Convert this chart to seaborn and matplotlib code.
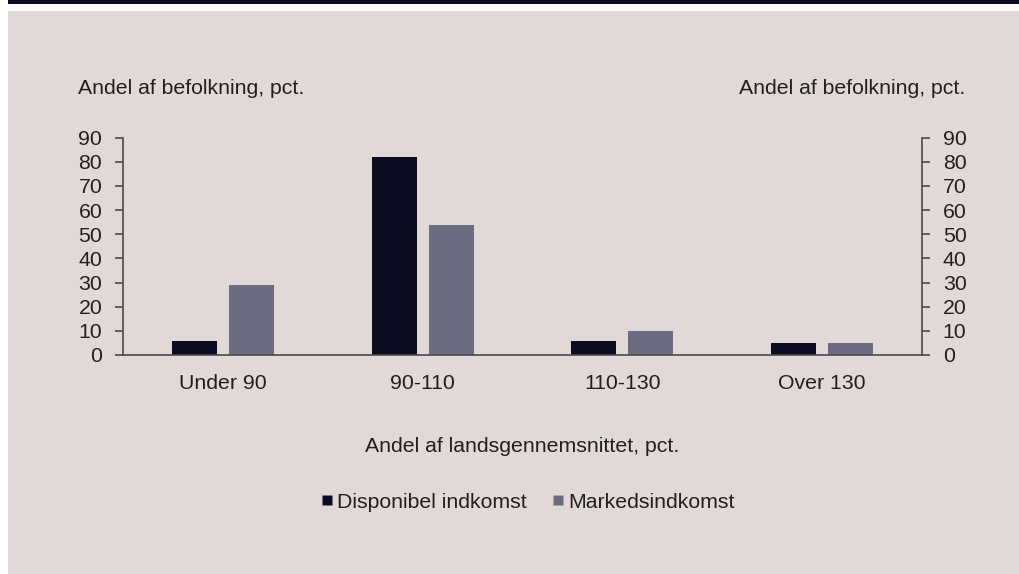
import matplotlib
matplotlib.use("Agg")
import matplotlib.pyplot as plt
from matplotlib.patches import Rectangle
from matplotlib.lines import Line2D
import seaborn as sns
import pandas as pd

categories = ["Under 90", "90-110", "110-130", "Over 130"]
disponibel = [6, 82, 6, 5]
marked = [29, 54, 10, 5]
series_names = ["Disponibel indkomst", "Markedsindkomst"]
yticks = [0, 10, 20, 30, 40, 50, 60, 70, 80, 90]

bg = "#e0d9d8"
c_dark = "#0b0c1f"
c_gray = "#6c6c80"
txt = "#231f20"
spine_c = "#4a4a4a"
fs = 15.3

sns.set_theme(style="white")
plt.rcParams['font.family'] = ['Liberation Sans', 'DejaVu Sans']

df = pd.DataFrame({
    "cat": categories * 2,
    "val": disponibel + marked,
    "serie": [series_names[0]] * 4 + [series_names[1]] * 4,
})

W, H = 1019, 574
fig = plt.figure(figsize=(W / 100, H / 100), dpi=100)
fig.patch.set_facecolor("white")
fig.add_artist(Rectangle((8 / W, 1 - 4 / H), 1, 4 / H, transform=fig.transFigure,
                         facecolor=c_dark, edgecolor="none", zorder=0))
fig.add_artist(Rectangle((8 / W, -0.01), 1, 1.01 - 11 / H, transform=fig.transFigure,
                         facecolor=bg, edgecolor="none", zorder=0))

left, right = 123 / W, 922 / W
bottom, top = 1 - 355 / H, 1 - 137.7 / H
ax = fig.add_axes([left, bottom, right - left, top - bottom])
ax.set_facecolor("none")

sns.barplot(data=df, x="cat", y="val", hue="serie", palette=[c_dark, c_gray],
            width=0.57, gap=0.21, ax=ax, legend=False, saturation=1, linewidth=0)
ax.set_xlim(-0.5, 3.5)
ax.set_ylim(0, 90)
ax.set_yticks(yticks)
ax.set_xlabel("")
ax.set_ylabel("")
for s in ["top", "right"]:
    ax.spines[s].set_visible(False)
for s in ["left", "bottom"]:
    ax.spines[s].set_color(spine_c)
    ax.spines[s].set_linewidth(1.2)
ax.tick_params(axis="y", which="both", left=True, length=6, width=1.2, color=spine_c,
               labelsize=fs, labelcolor=txt, pad=9)
ax.tick_params(axis="x", bottom=False, labelsize=fs, labelcolor=txt, pad=8)

ax2 = ax.twinx()
ax2.set_ylim(0, 90)
ax2.set_yticks(yticks)
for s in ["top", "left", "bottom"]:
    ax2.spines[s].set_visible(False)
ax2.spines["right"].set_color(spine_c)
ax2.spines["right"].set_linewidth(1.2)
ax2.tick_params(axis="y", right=True, length=6, width=1.2, color=spine_c,
                labelsize=fs, labelcolor=txt, pad=9)

fig.text(78 / W, 1 - 88 / H, "Andel af befolkning, pct.", fontsize=fs, color=txt,
         ha="left", va="center")
fig.text(965 / W, 1 - 88 / H, "Andel af befolkning, pct.", fontsize=fs, color=txt,
         ha="right", va="center")
fig.text(522 / W, 1 - 447 / H, "Andel af landsgennemsnittet, pct.", fontsize=fs,
         color=txt, ha="center", va="center")

handles = [Line2D([], [], marker="s", linestyle="none", markersize=7.5,
                  markerfacecolor=c, markeredgecolor="none") for c in [c_dark, c_gray]]
fig.legend(handles, series_names, loc="center", bbox_to_anchor=(528 / W, 1 - 502 / H),
           ncol=2, frameon=False, fontsize=fs, handlelength=0.55, handletextpad=0.2,
           columnspacing=1.2, labelcolor=txt)

fig.savefig("out.png", dpi=100, facecolor=fig.get_facecolor())
